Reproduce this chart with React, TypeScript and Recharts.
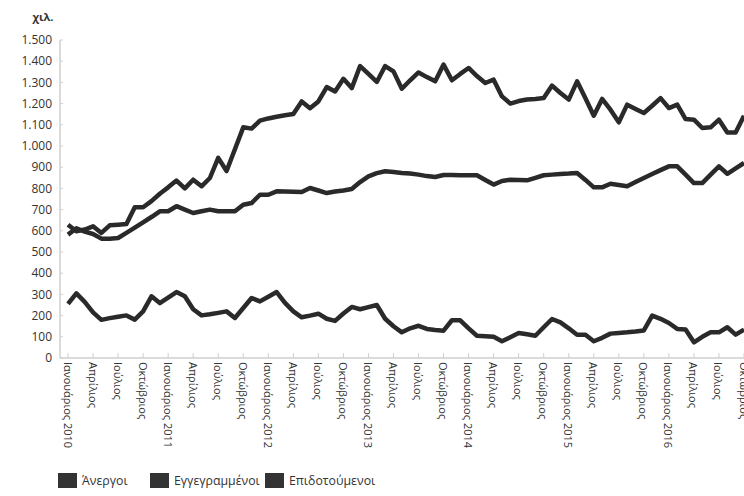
import React from "react";
import { LineChart, Line, XAxis, YAxis, Legend } from "recharts";

const monthNames = [
  "Ιανουάριος", "Φεβρουάριος", "Μάρτιος", "Απρίλιος", "Μάιος", "Ιούνιος",
  "Ιούλιος", "Αύγουστος", "Σεπτέμβριος", "Οκτώβριος", "Νοέμβριος", "Δεκέμβριος",
];
const years = [2010, 2011, 2012, 2013, 2014, 2015, 2016];
const monthCount = 82; // Ιαν 2010 - Οκτ 2016

const yTicks = [0, 100, 200, 300, 400, 500, 600, 700, 800, 900, 1000, 1100, 1200, 1300, 1400, 1500];

const seriesNames = ["Άνεργοι", "Εγγεγραμμένοι", "Επιδοτούμενοι"];

// χιλ. άτομα, μηνιαία
const anergoi = [
  629, 598, 606, 621, 590, 626, 629, 632, 711, 711,
  740, 775, 805, 837, 800, 841, 810, 849, 944, 882,
  985, 1088, 1082, 1120, 1130, 1138, 1145, 1151, 1210, 1178,
  1210, 1278, 1257, 1317, 1273, 1377, 1340, 1302, 1377, 1352,
  1270, 1310, 1347, 1325, 1305, 1384, 1310, 1340, 1368, 1330,
  1297, 1313, 1234, 1200, 1212, 1219, 1222, 1226, 1285, 1250,
  1219, 1305, 1225, 1143, 1222, 1171, 1112, 1195, 1175, 1156,
  1190, 1226, 1179, 1195, 1127, 1124, 1085, 1088, 1124, 1064,
  1064, 1143,
];
const eggegrammenoi = [
  582, 612, 596, 585, 563, 563, 566, 590, 615, 640,
  665, 692, 692, 716, 700, 684, 692, 700, 692, 692,
  692, 723, 731, 770, 770, 786, 785, 784, 783, 802,
  790, 778, 785, 790, 797, 830, 857, 872, 881, 877,
  873, 870, 865, 858, 854, 863, 863, 862, 862, 862,
  840, 818, 835, 841, 840, 838, 850, 862, 865, 868,
  870, 873, 840, 805, 805, 822, 816, 810, 830, 849,
  868, 886, 904, 904, 865, 825, 825, 865, 904, 869,
  895, 920,
];
const epidotoumenoi = [
  255, 305, 265, 215, 180, 188, 195, 201, 181, 220,
  291, 259, 285, 311, 291, 230, 201, 206, 213, 220,
  189, 236, 283, 267, 289, 311, 260, 220, 192, 200,
  209, 185, 175, 210, 241, 230, 240, 250, 185, 150,
  121, 140, 152, 137, 132, 129, 178, 178, 140, 105,
  103, 100, 79, 98, 118, 112, 105, 145, 184, 168,
  140, 110, 110, 79, 95, 115, 118, 121, 125, 130,
  200, 185, 165, 137, 134, 74, 100, 121, 121, 145,
  110, 134,
];

const data = Array.from({ length: monthCount }, (_, i) => {
  const m = i % 12;
  const label = m === 0 ? `${monthNames[m]} ${years[Math.floor(i / 12)]}` : monthNames[m];
  return {
    label,
    anergoi: anergoi[i],
    eggegrammenoi: eggegrammenoi[i],
    epidotoumenoi: epidotoumenoi[i],
  };
});

const ink = "#2a2a2a";
const axisGrey = "#cfcfcf";
const font = "'Open Sans', 'DejaVu Sans', sans-serif";

const fmt = (v: number) =>
  v >= 1000 ? `${Math.floor(v / 1000)}.${String(v % 1000).padStart(3, "0")}` : String(v);

function MonthTick({ x, y, payload }: any) {
  return (
    <text
      x={x}
      y={y}
      transform={`rotate(90, ${x}, ${y})`}
      textAnchor="start"
      dominantBaseline="central"
      fontSize={11}
      fill="#333"
      fontFamily={font}
    >
      {payload.value}
    </text>
  );
}

const legendWidths = [92, 115, 130];

function LegendBox() {
  return (
    <div style={{ display: "flex", alignItems: "center", height: 20, paddingLeft: 58, fontFamily: font }}>
      {seriesNames.map((name, i) => (
        <div key={name} style={{ display: "flex", alignItems: "center", width: legendWidths[i], whiteSpace: "nowrap" }}>
          <span style={{ display: "inline-block", width: 19, height: 15, background: "#333", marginRight: 5 }} />
          <span style={{ fontSize: 12.3, color: "#333", lineHeight: "15px" }}>{name}</span>
        </div>
      ))}
    </div>
  );
}

export default function App() {
  return (
    <div style={{ position: "absolute", left: 0, top: 0, width: 744, height: 496, overflow: "hidden", background: "#fff" }}>
      <LineChart width={744} height={496} data={data} margin={{ top: 40, right: 0, bottom: 6, left: 0 }}>
        <XAxis
          dataKey="label"
          interval={2}
          height={112}
          padding={{ left: 8, right: 0 }}
          axisLine={{ stroke: axisGrey, strokeWidth: 1.5 }}
          tickLine={{ stroke: axisGrey }}
          tickSize={-5}
          tickMargin={9}
          tick={<MonthTick />}
        />
        <YAxis
          width={60}
          domain={[0, 1500]}
          ticks={yTicks}
          interval={0}
          tickFormatter={fmt}
          axisLine={{ stroke: axisGrey, strokeWidth: 1.5 }}
          tickLine={{ stroke: axisGrey }}
          tickSize={-3}
          tickMargin={11}
          tick={{ fontSize: 12, fill: "#333", fontFamily: font }}
          label={{ value: "χιλ.", position: "top", offset: 19, dx: 13, fontSize: 11, fontWeight: 700, fill: "#333", fontFamily: font }}
        />
        <Legend verticalAlign="bottom" align="left" content={<LegendBox />} />
        <Line dataKey="anergoi" name={seriesNames[0]} stroke={ink} strokeWidth={4.5} strokeLinejoin="round" dot={false} type="linear" isAnimationActive={false} />
        <Line dataKey="eggegrammenoi" name={seriesNames[1]} stroke={ink} strokeWidth={4.5} strokeLinejoin="round" dot={false} type="linear" isAnimationActive={false} />
        <Line dataKey="epidotoumenoi" name={seriesNames[2]} stroke={ink} strokeWidth={4.5} strokeLinejoin="round" dot={false} type="linear" isAnimationActive={false} />
      </LineChart>
    </div>
  );
}
